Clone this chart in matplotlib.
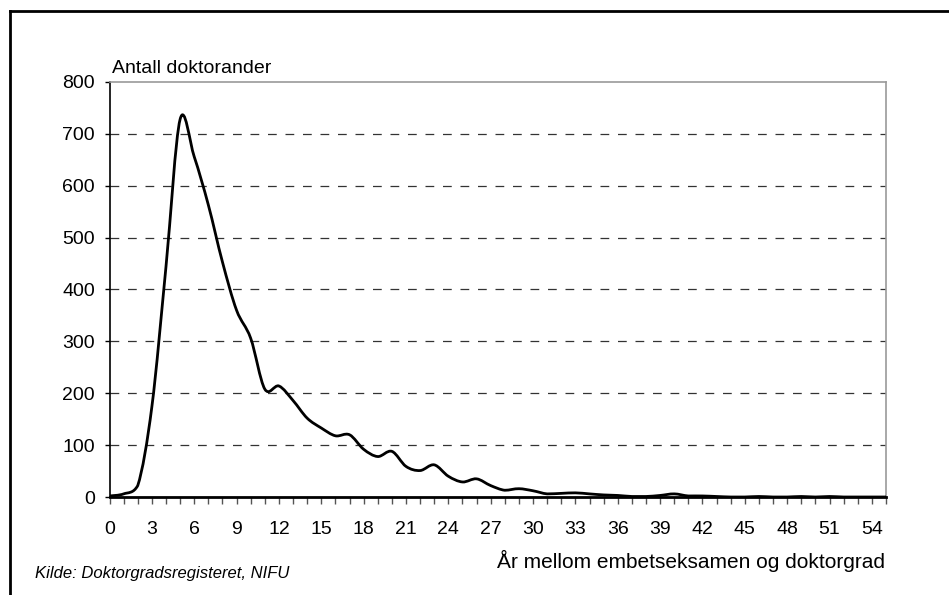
import numpy as np
import matplotlib
matplotlib.use('Agg')
import matplotlib.pyplot as plt
from matplotlib.path import Path
from matplotlib.patches import PathPatch
from matplotlib.lines import Line2D

#----Data----#
years = list(range(0, 56))
doctors = [2, 6, 22, 174, 444, 728, 656, 563, 453, 360,
           306, 208, 214, 186, 152, 133, 118, 120, 92, 78,
           88, 59, 51, 62, 40, 29, 35, 22, 13, 16,
           12, 6, 7, 8, 6, 4, 3, 1, 1, 3,
           6, 2, 2, 1, 0, 0, 1, 0, 0, 1,
           0, 1, 0, 0, 0, 0]
y_ticks = list(range(0, 900, 100))
x_ticks = list(range(0, 55, 3))

plt.rcParams['font.family'] = ['Liberation Sans', 'DejaVu Sans']


def smooth_path(x, y):
    # excel style smoothed line: catmull-rom segments as cubic beziers,
    # near the baseline the control points are kept above the lower end
    x = np.asarray(x, float)
    y = np.asarray(y, float)
    verts = [(x[0], y[0])]
    codes = [Path.MOVETO]
    n = len(x)
    for i in range(n - 1):
        x0, y0 = (x[i - 1], y[i - 1]) if i > 0 else (x[i], y[i])
        x3, y3 = (x[i + 2], y[i + 2]) if i + 2 < n else (x[i + 1], y[i + 1])
        c1y = y[i] + (y[i + 1] - y0) / 6
        c2y = y[i + 1] - (y3 - y[i]) / 6
        lo = min(y[i], y[i + 1])
        if lo < 25:
            c1y, c2y = max(c1y, lo), max(c2y, lo)
        c1 = (x[i] + (x[i + 1] - x0) / 6, c1y)
        c2 = (x[i + 1] - (x3 - x[i]) / 6, c2y)
        verts += [c1, c2, (x[i + 1], y[i + 1])]
        codes += [Path.CURVE4] * 3
    return Path(verts, codes)


fig = plt.figure(figsize=(9.49, 5.95), dpi=100)
ax = fig.add_axes([0.1154, 0.1647, 0.8182, 0.6975])

ax.add_patch(PathPatch(smooth_path(years, doctors), facecolor='none',
                       edgecolor='black', linewidth=2.0, capstyle='round',
                       joinstyle='round', zorder=3))

ax.set_xlim(0, 55)
ax.set_ylim(0, 800)
ax.set_yticks(y_ticks)
ax.set_xticks(x_ticks)
ax.set_xticks(years, minor=True)

for v in y_ticks[1:-1]:
    ax.axhline(v, color='#333333', linewidth=0.9, linestyle=(0, (7, 7)), zorder=1)

for side in ['top', 'right']:
    ax.spines[side].set_color('#999999')
    ax.spines[side].set_linewidth(1.2)
ax.spines['left'].set_linewidth(1.2)
ax.spines['bottom'].set_linewidth(2.0)

ax.tick_params(axis='y', direction='out', length=3.6, width=1, pad=7, labelsize=14)
ax.tick_params(axis='x', which='both', direction='out', length=5, width=1,
               color='#555555', pad=12.5, labelsize=14)
ax.tick_params(axis='x', which='minor', labelbottom=False)

fig.text(111.5 / 949, 1 - 73 / 595, 'Antall doktorander', fontsize=14,
         ha='left', va='baseline')
fig.text(885 / 949, 1 - 568 / 595, 'År mellom embetseksamen og doktorgrad',
         fontsize=15, ha='right', va='baseline')
fig.text(35 / 949, 1 - 578 / 595, 'Kilde: Doktorgradsregisteret, NIFU',
         fontsize=12, style='italic', ha='left', va='baseline')

# frame around the picture (left and top edges visible)
fig.add_artist(Line2D([9.5 / 949, 9.5 / 949], [0, 1 - 10.5 / 595],
                      color='black', linewidth=2, transform=fig.transFigure))
fig.add_artist(Line2D([9.5 / 949, 1], [1 - 10.5 / 595, 1 - 10.5 / 595],
                      color='black', linewidth=2, transform=fig.transFigure))

fig.savefig('out.png', dpi=100)
